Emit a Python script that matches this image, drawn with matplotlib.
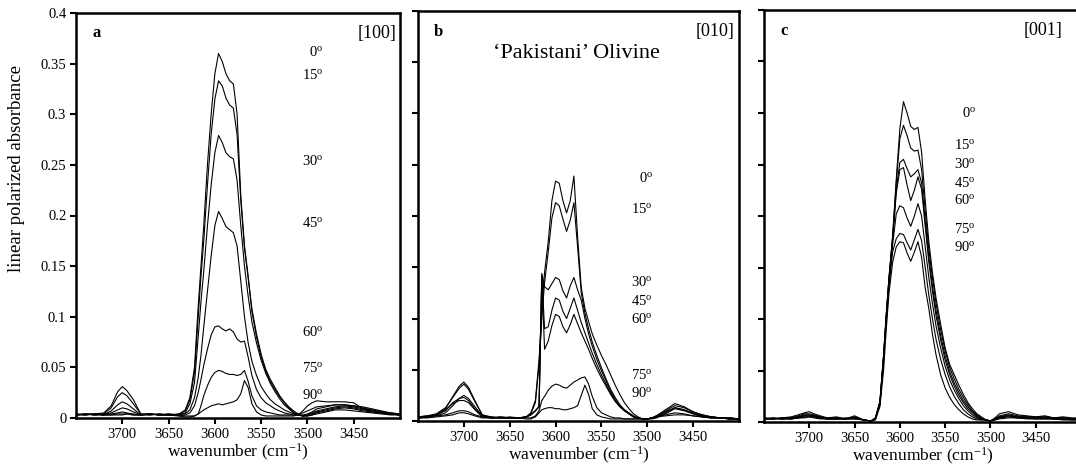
import numpy as np
import matplotlib
matplotlib.use('Agg')
from matplotlib import pyplot as plt

plt.rcParams['font.family'] = 'Liberation Serif'
plt.rcParams['mathtext.fontset'] = 'custom'
plt.rcParams['mathtext.rm'] = 'Liberation Serif'
plt.rcParams['mathtext.it'] = 'Liberation Serif:italic'

# wavenumber grid (cm-1) the spectra were read at
wavenumber = [3750, 3740, 3730, 3720, 3712, 3705, 3700, 3695, 3688, 3680,
              3670, 3660, 3650, 3640, 3632, 3627, 3622, 3618, 3615, 3612,
              3608, 3604, 3600, 3596, 3592, 3588, 3584, 3580, 3576, 3572,
              3568, 3564, 3560, 3555, 3550, 3545, 3540, 3535, 3530, 3525,
              3520, 3515, 3510, 3505, 3500, 3495, 3490, 3480, 3470, 3460,
              3450, 3440, 3430, 3420, 3410, 3400]

angles = [0, 15, 30, 45, 60, 75, 90]

# panel a  [100]
a0 = [0.004, 0.003, 0.004, 0.005, 0.012, 0.026, 0.031, 0.027, 0.018, 0.004,
      0.004, 0.003, 0.004, 0.003, 0.008, 0.02, 0.05, 0.11, 0.15, 0.19,
      0.25, 0.30, 0.34, 0.36, 0.352, 0.34, 0.333, 0.33, 0.30, 0.22,
      0.17, 0.14, 0.105, 0.08, 0.06, 0.046, 0.036, 0.028, 0.021, 0.015,
      0.01, 0.006, 0.003, 0.002, 0.002, 0.003, 0.004, 0.006, 0.008, 0.008,
      0.007, 0.006, 0.005, 0.004, 0.003, 0.003]
a15 = [0.003, 0.004, 0.003, 0.004, 0.01, 0.021, 0.025, 0.022, 0.014, 0.004,
       0.003, 0.004, 0.003, 0.003, 0.007, 0.018, 0.045, 0.1, 0.14, 0.175,
       0.23, 0.28, 0.315, 0.333, 0.328, 0.316, 0.309, 0.306, 0.28, 0.215,
       0.168, 0.138, 0.108, 0.083, 0.063, 0.048, 0.038, 0.03, 0.022, 0.016,
       0.011, 0.007, 0.004, 0.002, 0.002, 0.003, 0.005, 0.007, 0.009, 0.01,
       0.009, 0.007, 0.006, 0.005, 0.004, 0.003]
a30 = [0.004, 0.003, 0.004, 0.003, 0.007, 0.013, 0.016, 0.014, 0.009, 0.003,
       0.004, 0.003, 0.004, 0.003, 0.005, 0.014, 0.035, 0.08, 0.115, 0.145,
       0.19, 0.23, 0.262, 0.279, 0.272, 0.262, 0.258, 0.256, 0.235, 0.19,
       0.15, 0.12, 0.095, 0.074, 0.057, 0.044, 0.034, 0.026, 0.019, 0.013,
       0.009, 0.005, 0.003, 0.002, 0.003, 0.004, 0.006, 0.008, 0.01, 0.011,
       0.01, 0.008, 0.007, 0.005, 0.004, 0.003]
a45 = [0.003, 0.004, 0.003, 0.004, 0.005, 0.008, 0.01, 0.009, 0.006, 0.003,
       0.004, 0.003, 0.003, 0.004, 0.004, 0.008, 0.02, 0.04, 0.062, 0.09,
       0.125, 0.16, 0.19, 0.204, 0.197, 0.189, 0.186, 0.183, 0.17, 0.135,
       0.1, 0.074, 0.056, 0.042, 0.031, 0.024, 0.018, 0.014, 0.011, 0.008,
       0.006, 0.004, 0.003, 0.002, 0.003, 0.005, 0.007, 0.009, 0.011, 0.012,
       0.011, 0.009, 0.008, 0.006, 0.004, 0.003]
a60 = [0.003, 0.003, 0.004, 0.003, 0.004, 0.005, 0.006, 0.005, 0.004, 0.003,
       0.003, 0.004, 0.003, 0.003, 0.003, 0.005, 0.012, 0.025, 0.038, 0.052,
       0.068, 0.082, 0.09, 0.091, 0.088, 0.086, 0.088, 0.085, 0.078, 0.075,
       0.076, 0.06, 0.042, 0.028, 0.02, 0.015, 0.012, 0.009, 0.007, 0.005,
       0.004, 0.003, 0.003, 0.003, 0.004, 0.006, 0.009, 0.011, 0.013, 0.013,
       0.012, 0.01, 0.008, 0.006, 0.005, 0.004]
a75 = [0.003, 0.004, 0.003, 0.003, 0.003, 0.004, 0.004, 0.004, 0.003, 0.003,
       0.004, 0.003, 0.003, 0.003, 0.002, 0.002, 0.002, 0.004, 0.012, 0.022,
       0.032, 0.04, 0.045, 0.047, 0.046, 0.044, 0.043, 0.043, 0.042, 0.043,
       0.047, 0.036, 0.022, 0.012, 0.008, 0.006, 0.005, 0.004, 0.003, 0.003,
       0.003, 0.003, 0.004, 0.005, 0.007, 0.009, 0.011, 0.012, 0.013, 0.013,
       0.012, 0.011, 0.009, 0.007, 0.005, 0.004]
a90 = [0.003, 0.004, 0.004, 0.003, 0.003, 0.003, 0.003, 0.004, 0.003, 0.003,
       0.004, 0.003, 0.003, 0.002, 0.001, 0.001, 0.002, 0.004, 0.006, 0.008,
       0.01, 0.012, 0.013, 0.014, 0.013, 0.014, 0.015, 0.016, 0.018, 0.024,
       0.037, 0.03, 0.014, 0.006, 0.003, 0.002, 0.002, 0.002, 0.002, 0.002,
       0.002, 0.002, 0.003, 0.007, 0.012, 0.015, 0.017, 0.016, 0.016, 0.016,
       0.015, 0.009, 0.006, 0.005, 0.004, 0.004]

# panel b  [010]
b0 = [0.003, 0.004, 0.006, 0.012, 0.024, 0.034, 0.038, 0.033, 0.02, 0.006,
      0.004, 0.003, 0.003, 0.003, 0.004, 0.008, 0.02, 0.06, 0.11, 0.145,
      0.175, 0.215, 0.234, 0.232, 0.215, 0.203, 0.215, 0.239, 0.18, 0.13,
      0.11, 0.097, 0.085, 0.074, 0.064, 0.055, 0.045, 0.035, 0.026, 0.018,
      0.012, 0.007, 0.004, 0.002, 0.002, 0.002, 0.003, 0.007, 0.012, 0.01,
      0.007, 0.004, 0.003, 0.003, 0.002, 0.002]
b15 = [0.004, 0.005, 0.007, 0.013, 0.023, 0.032, 0.036, 0.031, 0.019, 0.006,
       0.003, 0.004, 0.003, 0.003, 0.004, 0.007, 0.018, 0.055, 0.1, 0.135,
       0.165, 0.198, 0.213, 0.21, 0.197, 0.185, 0.196, 0.213, 0.17, 0.125,
       0.105, 0.09, 0.077, 0.064, 0.052, 0.041, 0.031, 0.023, 0.016, 0.011,
       0.007, 0.004, 0.003, 0.002, 0.002, 0.003, 0.005, 0.011, 0.017, 0.014,
       0.009, 0.005, 0.004, 0.003, 0.003, 0.002]
b30 = [0.003, 0.004, 0.005, 0.008, 0.015, 0.022, 0.025, 0.022, 0.014, 0.005,
       0.003, 0.003, 0.004, 0.003, 0.004, 0.006, 0.01, 0.014, 0.144, 0.131,
       0.128, 0.134, 0.14, 0.138, 0.127, 0.12, 0.132, 0.14, 0.128, 0.118,
       0.1, 0.085, 0.073, 0.06, 0.049, 0.039, 0.029, 0.021, 0.015, 0.011,
       0.008, 0.005, 0.003, 0.002, 0.002, 0.003, 0.004, 0.008, 0.013, 0.011,
       0.007, 0.005, 0.004, 0.003, 0.003, 0.002]
b45 = [0.003, 0.004, 0.006, 0.01, 0.018, 0.022, 0.023, 0.02, 0.012, 0.005,
       0.004, 0.003, 0.003, 0.003, 0.004, 0.006, 0.01, 0.014, 0.142, 0.09,
       0.092, 0.108, 0.12, 0.118, 0.107, 0.1, 0.11, 0.12, 0.108, 0.096,
       0.086, 0.076, 0.066, 0.055, 0.045, 0.036, 0.027, 0.02, 0.014, 0.01,
       0.007, 0.004, 0.003, 0.002, 0.002, 0.003, 0.005, 0.01, 0.015, 0.013,
       0.009, 0.006, 0.004, 0.003, 0.003, 0.002]
b60 = [0.004, 0.005, 0.006, 0.011, 0.017, 0.02, 0.02, 0.018, 0.011, 0.004,
       0.003, 0.004, 0.003, 0.003, 0.004, 0.006, 0.01, 0.014, 0.14, 0.07,
       0.078, 0.093, 0.104, 0.102, 0.092, 0.086, 0.094, 0.104, 0.095, 0.086,
       0.078, 0.07, 0.061, 0.051, 0.042, 0.034, 0.026, 0.019, 0.014, 0.01,
       0.007, 0.004, 0.003, 0.002, 0.002, 0.003, 0.005, 0.009, 0.013, 0.011,
       0.008, 0.006, 0.004, 0.003, 0.002, 0.002]
b75 = [0.003, 0.004, 0.005, 0.006, 0.008, 0.01, 0.01, 0.009, 0.006, 0.004,
       0.003, 0.003, 0.003, 0.003, 0.003, 0.003, 0.005, 0.01, 0.02, 0.024,
       0.03, 0.034, 0.036, 0.035, 0.033, 0.032, 0.035, 0.038, 0.04, 0.042,
       0.043, 0.036, 0.024, 0.013, 0.008, 0.006, 0.004, 0.003, 0.003, 0.002,
       0.002, 0.002, 0.002, 0.002, 0.002, 0.003, 0.004, 0.006, 0.008, 0.007,
       0.005, 0.004, 0.003, 0.003, 0.002, 0.002]
b90 = [0.003, 0.003, 0.004, 0.005, 0.006, 0.008, 0.008, 0.007, 0.005, 0.003,
       0.003, 0.003, 0.003, 0.003, 0.002, 0.002, 0.004, 0.008, 0.011, 0.012,
       0.013, 0.013, 0.012, 0.012, 0.011, 0.011, 0.012, 0.013, 0.015, 0.025,
       0.035, 0.026, 0.012, 0.006, 0.004, 0.003, 0.002, 0.002, 0.002, 0.002,
       0.002, 0.002, 0.002, 0.002, 0.002, 0.003, 0.004, 0.005, 0.006, 0.006,
       0.005, 0.004, 0.003, 0.003, 0.002, 0.002]

# panel c  [001]
c0 = [0.004, 0.003, 0.004, 0.005, 0.007, 0.009, 0.01, 0.008, 0.006, 0.004,
      0.005, 0.003, 0.006, 0.002, 0.001, 0.004, 0.02, 0.065, 0.105, 0.14,
      0.18, 0.235, 0.285, 0.311, 0.3, 0.287, 0.284, 0.286, 0.262, 0.215,
      0.175, 0.145, 0.12, 0.095, 0.072, 0.056, 0.046, 0.036, 0.027, 0.019,
      0.013, 0.008, 0.005, 0.002, 0.001, 0.004, 0.008, 0.01, 0.007, 0.006,
      0.005, 0.006, 0.004, 0.005, 0.004, 0.004]
c15 = [0.003, 0.004, 0.003, 0.004, 0.006, 0.008, 0.008, 0.007, 0.005, 0.004,
       0.004, 0.003, 0.005, 0.002, 0.001, 0.004, 0.02, 0.064, 0.104, 0.14,
       0.18, 0.232, 0.275, 0.288, 0.278, 0.266, 0.263, 0.264, 0.245, 0.205,
       0.168, 0.14, 0.115, 0.09, 0.069, 0.053, 0.042, 0.032, 0.024, 0.017,
       0.011, 0.007, 0.004, 0.002, 0.001, 0.003, 0.006, 0.008, 0.006, 0.005,
       0.005, 0.005, 0.004, 0.004, 0.003, 0.003]
c30 = [0.003, 0.003, 0.004, 0.004, 0.005, 0.007, 0.007, 0.006, 0.005, 0.003,
       0.004, 0.003, 0.004, 0.002, 0.001, 0.003, 0.019, 0.063, 0.103, 0.138,
       0.178, 0.225, 0.252, 0.255, 0.246, 0.238, 0.241, 0.245, 0.232, 0.195,
       0.16, 0.132, 0.108, 0.084, 0.064, 0.049, 0.038, 0.029, 0.021, 0.015,
       0.01, 0.006, 0.003, 0.002, 0.001, 0.003, 0.005, 0.007, 0.005, 0.005,
       0.004, 0.005, 0.004, 0.004, 0.003, 0.003]
c45 = [0.004, 0.003, 0.003, 0.004, 0.005, 0.006, 0.006, 0.006, 0.004, 0.003,
       0.003, 0.004, 0.004, 0.002, 0.001, 0.003, 0.018, 0.062, 0.102, 0.137,
       0.176, 0.222, 0.245, 0.247, 0.23, 0.215, 0.225, 0.238, 0.226, 0.19,
       0.155, 0.127, 0.103, 0.08, 0.06, 0.046, 0.035, 0.026, 0.019, 0.013,
       0.009, 0.005, 0.003, 0.002, 0.001, 0.003, 0.005, 0.006, 0.005, 0.004,
       0.004, 0.004, 0.003, 0.003, 0.003, 0.003]
c60 = [0.003, 0.004, 0.003, 0.003, 0.004, 0.006, 0.006, 0.005, 0.004, 0.003,
       0.003, 0.003, 0.004, 0.002, 0.001, 0.003, 0.018, 0.062, 0.1, 0.135,
       0.172, 0.202, 0.21, 0.208, 0.198, 0.19, 0.2, 0.212, 0.2, 0.17,
       0.14, 0.115, 0.093, 0.072, 0.054, 0.041, 0.031, 0.023, 0.016, 0.011,
       0.007, 0.004, 0.003, 0.002, 0.001, 0.003, 0.004, 0.006, 0.004, 0.004,
       0.004, 0.004, 0.003, 0.003, 0.003, 0.002]
c75 = [0.003, 0.003, 0.004, 0.003, 0.004, 0.005, 0.005, 0.005, 0.004, 0.003,
       0.003, 0.003, 0.003, 0.002, 0.001, 0.003, 0.017, 0.06, 0.098, 0.132,
       0.165, 0.178, 0.183, 0.182, 0.174, 0.167, 0.177, 0.187, 0.176, 0.15,
       0.123, 0.1, 0.08, 0.061, 0.046, 0.034, 0.025, 0.018, 0.012, 0.008,
       0.005, 0.003, 0.002, 0.002, 0.001, 0.002, 0.004, 0.005, 0.004, 0.004,
       0.003, 0.003, 0.003, 0.003, 0.002, 0.002]
c90 = [0.003, 0.003, 0.003, 0.003, 0.004, 0.004, 0.005, 0.004, 0.003, 0.003,
       0.003, 0.003, 0.003, 0.002, 0.001, 0.002, 0.015, 0.05, 0.09, 0.125,
       0.155, 0.17, 0.175, 0.174, 0.164, 0.156, 0.165, 0.175, 0.16, 0.13,
       0.11, 0.085, 0.065, 0.046, 0.033, 0.024, 0.017, 0.012, 0.008, 0.005,
       0.003, 0.002, 0.002, 0.002, 0.001, 0.002, 0.003, 0.004, 0.004, 0.003,
       0.003, 0.003, 0.003, 0.002, 0.002, 0.002]

panels = [
    ('a', '[100]', [a0, a15, a30, a45, a60, a75, a90]),
    ('b', '[010]', [b0, b15, b30, b45, b60, b75, b90]),
    ('c', '[001]', [c0, c15, c30, c45, c60, c75, c90]),
]

# where the angle labels sit (data coords: x right edge, y centres)
label_x = [3483, 3494, 3516]
label_y = [
    [0.361, 0.339, 0.254, 0.193, 0.085, 0.049, 0.023],
    [0.237, 0.207, 0.136, 0.117, 0.0995, 0.045, 0.0276],
    [0.300, 0.269, 0.250, 0.232, 0.216, 0.187, 0.170],
]
tag_x = [0.988, 0.985, 0.943]

W, H = 1076, 466
boxes = [(76, 400, 13, 418), (418, 739, 11, 421), (764, 1081, 10, 422)]


def main():

    fig = plt.figure(figsize=(W / 100, H / 100), dpi=100)

    for i, (letter, axis_tag, curves) in enumerate(panels):
        x0, x1, top, bottom = boxes[i]
        ax = fig.add_axes([x0 / W, 1 - bottom / H, (x1 - x0) / W, (bottom - top) / H])

        for y in curves:
            ax.plot(wavenumber, y, color='black', lw=0.8)

        ax.set_xlim(3750, 3400)
        ax.set_ylim(0, 0.4)
        ax.set_xticks([3700, 3650, 3600, 3550, 3500, 3450])
        ax.set_yticks(np.arange(0, 0.401, 0.05))
        ax.tick_params(direction='out', length=4, width=1.5, labelsize=10.5, pad=3)
        for s in ax.spines.values():
            s.set_linewidth(1.8)

        if i == 0:
            ax.set_yticklabels(['0', '0.05', '0.1', '0.15', '0.2', '0.25', '0.3', '0.35', '0.4'])
            ax.set_ylabel('linear polarized absorbance', fontsize=13.5)
            ax.yaxis.set_label_coords(-0.157, 0.617)
        else:
            ax.set_yticklabels([])

        ax.set_xlabel('wavenumber (cm$^{-1}$)', fontsize=12.5, labelpad=1)

        ax.text(0.065, 0.95, letter, transform=ax.transAxes, fontsize=12,
                fontweight='bold', ha='center', va='center')
        ax.text(tag_x[i], 0.95, axis_tag, transform=ax.transAxes, fontsize=13,
                ha='right', va='center')

        for ang, yy in zip(angles, label_y[i]):
            ax.text(label_x[i], yy, f'{ang}$^{{\\rm o}}$', fontsize=10.5,
                    ha='right', va='center')

        if letter == 'b':
            ax.text(0.494, 0.897, '\u2018Pakistani\u2019 Olivine', transform=ax.transAxes,
                    fontsize=16, ha='center', va='center')

    fig.savefig('out.png', dpi=100)


if __name__ == '__main__':

    main()
